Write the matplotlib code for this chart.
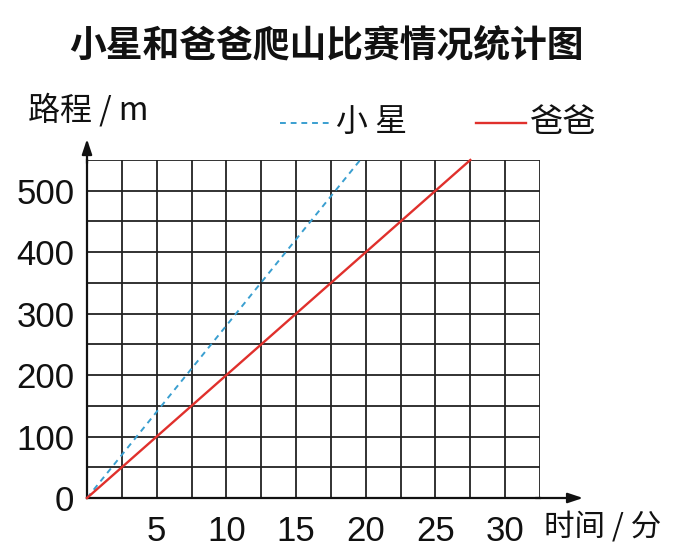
import numpy as np
import matplotlib
matplotlib.use("Agg")
import matplotlib.pyplot as plt
from matplotlib.lines import Line2D

plt.rcParams['font.family'] = ['Noto Sans CJK SC', 'DejaVu Sans']

# データ
xiaoxing_time = [0, 19.6]
xiaoxing_dist = [0, 550]
baba_time = [0, 27.5]
baba_dist = [0, 550]
x_ticks = [5, 10, 15, 20, 25, 30]
y_ticks = [0, 100, 200, 300, 400, 500]

W, H = 677, 554
fig = plt.figure(figsize=(W / 100, H / 100), dpi=100)

# 軸の位置（ピクセルから）
x0, x1, y0, y1 = 87, 540, 498, 160
ax = fig.add_axes([x0 / W, 1 - y0 / H, (x1 - x0) / W, (y0 - y1) / H])
ax.set_xlim(0, 32.5)
ax.set_ylim(0, 550)

ax.set_xticks(x_ticks)
ax.set_xticks(np.arange(0, 32.6, 2.5), minor=True)
ax.set_yticks(y_ticks)
ax.set_yticks(np.arange(0, 551, 50), minor=True)
ax.grid(which='both', color='#222222', linewidth=1.3)
ax.set_axisbelow(True)
ax.tick_params(which='both', length=0)
ax.tick_params(axis='x', pad=12)
ax.tick_params(axis='y', pad=9)
for lab in ax.get_xticklabels() + ax.get_yticklabels():
    lab.set_fontfamily('Liberation Sans')
    lab.set_fontsize(25)
    lab.set_color('#111111')

for s in ['top', 'right']:
    ax.spines[s].set_visible(False)
for s in ['left', 'bottom']:
    ax.spines[s].set_color('#111111')
    ax.spines[s].set_linewidth(1.6)

# 線
ax.plot(xiaoxing_time, xiaoxing_dist, color='#3a9fd0', linestyle=(0, (3, 2.5)),
        linewidth=1.4, clip_on=False, zorder=3)
ax.plot(baba_time, baba_dist, color='#e0302c', linewidth=1.7,
        clip_on=False, zorder=3)

# 矢印
ax.annotate('', xy=(1.095, 0), xytext=(0.99, 0), xycoords='axes fraction',
            arrowprops=dict(arrowstyle='-|>,head_length=0.9,head_width=0.3',
                            color='#111111', lw=1.6, shrinkA=0, shrinkB=0))
ax.annotate('', xy=(0, 1.062), xytext=(0, 0.99), xycoords='axes fraction',
            arrowprops=dict(arrowstyle='-|>,head_length=0.9,head_width=0.3',
                            color='#111111', lw=1.6, shrinkA=0, shrinkB=0))

# タイトル・ラベル
fig.text(326 / W, 1 - 46 / H, '小星和爸爸爬山比赛情况统计图', ha='center', va='center',
         fontsize=26.5, fontweight='bold', color='#111111')
fig.text(28 / W, 1 - 110 / H, '路程 / m', ha='left', va='center',
         fontsize=23, color='#111111')
fig.text(544 / W, 1 - 527 / H, '时间 / 分', ha='left', va='center',
         fontsize=22, color='#111111')

# 凡例
fig.add_artist(Line2D([280 / W, 330 / W], [1 - 123 / H, 1 - 123 / H],
                      color='#3a9fd0', linestyle=(0, (3, 2.5)), linewidth=1.4))
fig.text(336 / W, 1 - 122 / H, '小 星', ha='left', va='center',
         fontsize=23, color='#111111')
fig.add_artist(Line2D([476 / W, 526 / W], [1 - 123 / H, 1 - 123 / H],
                      color='#e0302c', linewidth=1.7))
fig.text(529 / W, 1 - 122 / H, '爸爸', ha='left', va='center',
         fontsize=24, color='#111111')

fig.savefig('out.png', dpi=100)
